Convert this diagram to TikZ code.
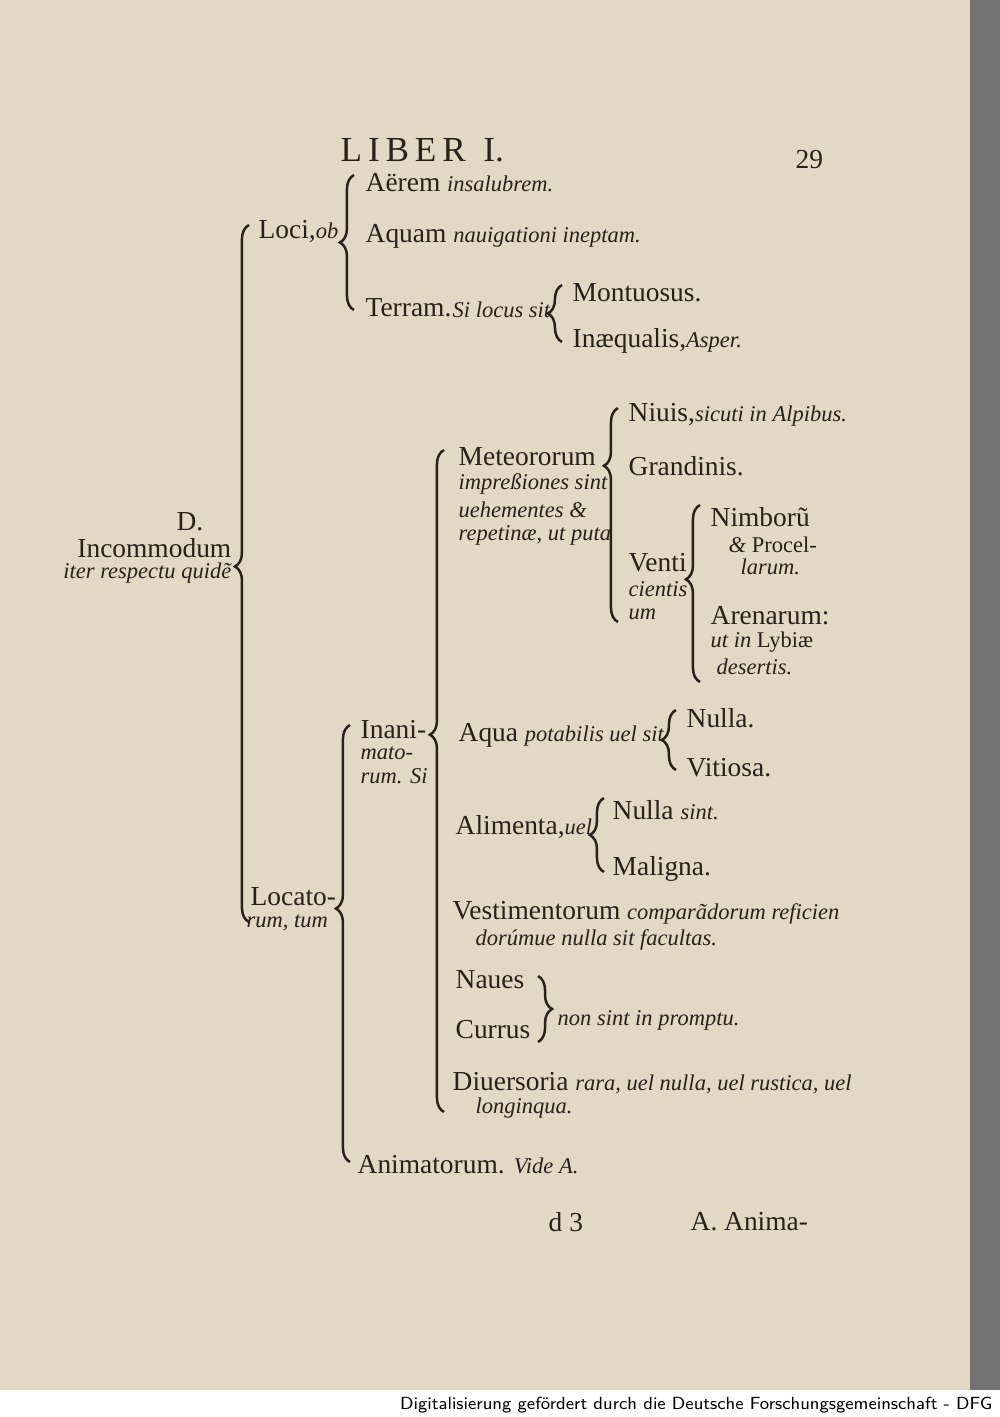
\documentclass[tikz,border=0pt]{standalone}
\usepackage{fontspec}
\setmainfont{Liberation Serif}
\usepackage{tikz}
\usetikzlibrary{decorations.pathreplacing}
\definecolor{paper}{RGB}{226,216,196}
\definecolor{ink}{RGB}{40,32,26}
\tikzset{
  txt/.style={anchor=west,inner sep=0pt,text=ink,font=\fontsize{7.8}{9}\selectfont},
  sml/.style={txt,font=\fontsize{6.4}{8}\selectfont\itshape},
  brc/.style={draw=ink,line width=0.7pt,decorate,decoration={brace,amplitude=4pt,aspect=#1}},
  brc/.default=0.5
}
\newcommand{\itl}[1]{{\fontsize{6.4}{8}\selectfont\itshape #1}}
\begin{document}
\begin{tikzpicture}[x=0.01cm,y=-0.01cm]
\useasboundingbox (0,0) rectangle (1000,1417);
\fill[paper] (0,0) rectangle (1000,1390);
\fill[black!55] (970,0) rectangle (1000,1390);
\fill[white] (0,1390) rectangle (1000,1417);
\node[anchor=east,inner sep=2pt,font=\fontsize{5}{6}\selectfont\sffamily] (dfg) at (1000,1405) {Digitalisierung gefördert durch die Deutsche Forschungsgemeinschaft - DFG};
% header
\node[txt,font=\fontsize{10}{12}\selectfont] (liber) at (340,150) {L\,I\,B\,E\,R\enspace I.};
\node[txt] (pag) at (795,160) {29};
% root
\node[txt,anchor=center] (d) at (190,522) {D.};
\node[txt,anchor=east] (inc) at (232,548) {Incommodum};
\node[sml,anchor=east] (iter) at (232,573) {iter respectu quidẽ};
\draw[brc=0.51] (249,922) -- (249,225);
% Loci
\node[txt] (loci) at (258,232) {Loci,\itl{ob}};
\draw[brc] (354,310) -- (354,175);
\node[txt] (aer) at (365,183) {Aërem \itl{insalubrem.}};
\node[txt] (aqu) at (365,236) {Aquam \itl{nauigationi ineptam.}};
\node[txt] (ter) at (365,308) {Terram.};
\node[sml] (sil) at (452,310) {Si locus sit};
\draw[brc] (562,342) -- (562,285);
\node[txt] (mon) at (572,293) {Montuosus.};
\node[txt] (ineq) at (572,341) {Inæqualis,\itl{Asper.}};
% Locatorum
\node[txt] (loc1) at (250,897) {Locato-};
\node[sml] (loc2) at (246,923) {rum, tum};
\draw[brc=0.58] (350,1162) -- (350,725);
\node[txt] (ina1) at (360,730) {Inani-};
\node[sml] (ina2) at (360,753) {mato-};
\node[sml] (ina3) at (360,776) {rum. Si};
\draw[brc=0.57] (444,1112) -- (444,450);
% Meteororum
\node[txt] (met) at (458,457) {Meteororum};
\node[sml] (met2) at (458,484) {impreßiones sint};
\node[sml] (met3) at (458,510) {uehementes \&};
\node[sml] (met4) at (458,535) {repetinæ, ut puta};
\draw[brc=0.73] (618,622) -- (618,408);
\node[txt] (niu) at (628,415) {Niuis,\itl{sicuti in Alpibus.}};
\node[txt] (gra) at (628,466) {Grandinis.};
\node[txt] (ven) at (628,563) {Venti};
\node[sml] (ven2) at (628,589) {cientis};
\node[sml] (ven3) at (628,614) {um};
\draw[brc=0.58] (700,682) -- (700,505);
\node[txt] (nim) at (710,517) {Nimborũ};
\node[sml] (nim2) at (728,545) {\& \upshape Procel-};
\node[sml] (nim3) at (740,567) {larum.};
\node[txt] (are) at (710,616) {Arenarum:};
\node[sml] (are2) at (710,642) {ut in \upshape Lybiæ};
\node[sml] (are3) at (716,667) {desertis.};
% Aqua
\node[txt] (aqp) at (458,735) {Aqua \itl{potabilis uel sit}};
\draw[brc] (676,770) -- (676,710);
\node[txt] (nul) at (686,718) {Nulla.};
\node[txt] (vit) at (686,768) {Vitiosa.};
% Alimenta
\node[txt] (ali) at (455,827) {Alimenta,\itl{uel}};
\draw[brc] (604,872) -- (604,798);
\node[txt] (nus) at (612,810) {Nulla \itl{sint.}};
\node[txt] (mal) at (612,869) {Maligna.};
% Vestimentorum
\node[txt] (ves) at (452,913) {Vestimentorum \itl{comparãdorum reficien}};
\node[sml] (ves2) at (475,940) {dorúmue nulla sit facultas.};
% Naues
\node[txt] (nau) at (455,980) {Naues};
\node[txt] (cur) at (455,1030) {Currus};
\draw[brc] (538,976) -- (538,1042);
\node[sml] (nsp) at (557,1020) {non sint in promptu.};
% Diuersoria
\node[txt] (diu) at (452,1083) {Diuersoria \itl{rara, uel nulla, uel rustica, uel}};
\node[sml] (diu2) at (475,1108) {longinqua.};
% Animatorum
\node[txt] (ani) at (357,1165) {Animatorum. \itl{Vide A.}};
% footer
\node[txt] (sig) at (548,1222) {d 3};
\node[txt] (cw) at (690,1222) {A. Anima-};
\end{tikzpicture}
\end{document}
